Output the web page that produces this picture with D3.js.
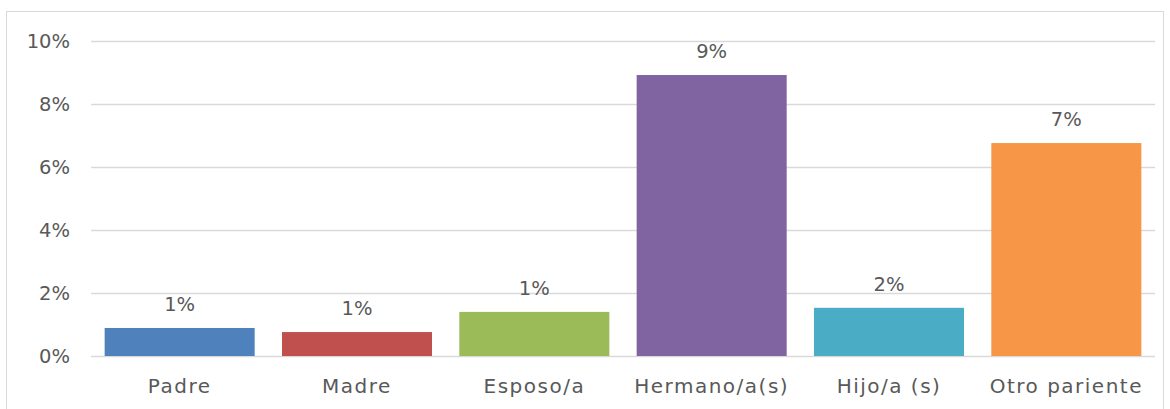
<!DOCTYPE html>
<html>
<head>
<meta charset="utf-8">
<script src="https://cdn.jsdelivr.net/npm/d3@7"></script>
<style>
  body { margin: 0; background: #fff; }
  svg text { font-family: "Century Gothic", "DejaVu Sans", sans-serif; fill: #595959; }
</style>
</head>
<body>
<svg width="1170" height="409"></svg>
<script>
// data
var categories = ["Padre", "Madre", "Esposo/a", "Hermano/a(s)", "Hijo/a (s)", "Otro pariente"];
var values = [0.0089, 0.0076, 0.0140, 0.0892, 0.0153, 0.0676];
var labels = ["1%", "1%", "1%", "9%", "2%", "7%"];
var colors = ["#4F81BD", "#C0504D", "#9BBB59", "#8064A2", "#4BACC6", "#F79646"];
var yTicks = [0, 0.02, 0.04, 0.06, 0.08, 0.10];

var data = categories.map(function(c, i){
    return {cat: c, val: values[i], label: labels[i], color: colors[i]};
});

var svg = d3.select('svg');

// chart border
svg.append('rect')
    .attr('x', 6.5).attr('y', 11.5)
    .attr('width', 1157).attr('height', 420)
    .attr('fill', 'none')
    .attr('stroke', '#D9D9D9')
    .attr('stroke-width', 1);

var xScale = d3.scaleBand()
    .domain(categories).range([91, 1155])
    .paddingInner(0.154).paddingOuter(0.077);

var yScale = d3.scaleLinear()
    .domain([0, 0.10]).range([356, 41]);

// gridlines
svg.append('g').attr('class', 'grid')
    .selectAll('line')
    .data(yTicks)
    .enter()
    .append('line')
    .attr('x1', 91).attr('x2', 1155)
    .attr('y1', function(d){ return Math.round(yScale(d)) + 0.5; })
    .attr('y2', function(d){ return Math.round(yScale(d)) + 0.5; })
    .attr('stroke', '#D9D9D9')
    .attr('stroke-width', 1.5);

// y axis labels
var yAxis = svg.append('g').attr('class', 'y axis')
    .attr('transform', 'translate(70,0)')
    .call(d3.axisLeft(yScale).tickValues(yTicks).tickFormat(d3.format('.0%')).tickSize(0).tickPadding(0));
yAxis.select('.domain').remove();
yAxis.selectAll('text')
    .attr('font-size', 19.5)
    .attr('fill', '#595959')
    .style('font-family', null);

// bars
svg.selectAll('rect.bar')
    .data(data)
    .enter()
    .append('rect')
    .attr('class', 'bar')
    .attr('x', function(d){ return xScale(d.cat); })
    .attr('width', xScale.bandwidth())
    .attr('y', function(d){ return yScale(d.val); })
    .attr('height', function(d){ return yScale(0) - yScale(d.val); })
    .attr('fill', function(d){ return d.color; });

// value labels
svg.selectAll('text.vlabel')
    .data(data)
    .enter()
    .append('text')
    .attr('class', 'vlabel')
    .attr('x', function(d){ return xScale(d.cat) + xScale.bandwidth() / 2; })
    .attr('y', function(d){ return yScale(d.val) - 17; })
    .attr('text-anchor', 'middle')
    .attr('font-size', 19.5)
    .text(function(d){ return d.label; });

// x axis labels
var xAxis = svg.append('g').attr('class', 'x axis')
    .attr('transform', 'translate(0,356)')
    .call(d3.axisBottom(xScale).tickSize(0).tickPadding(23));
xAxis.select('.domain').remove();
xAxis.selectAll('text')
    .attr('font-size', 20)
    .attr('letter-spacing', 1.5)
    .attr('fill', '#595959')
    .style('font-family', null);
</script>
</body>
</html>
